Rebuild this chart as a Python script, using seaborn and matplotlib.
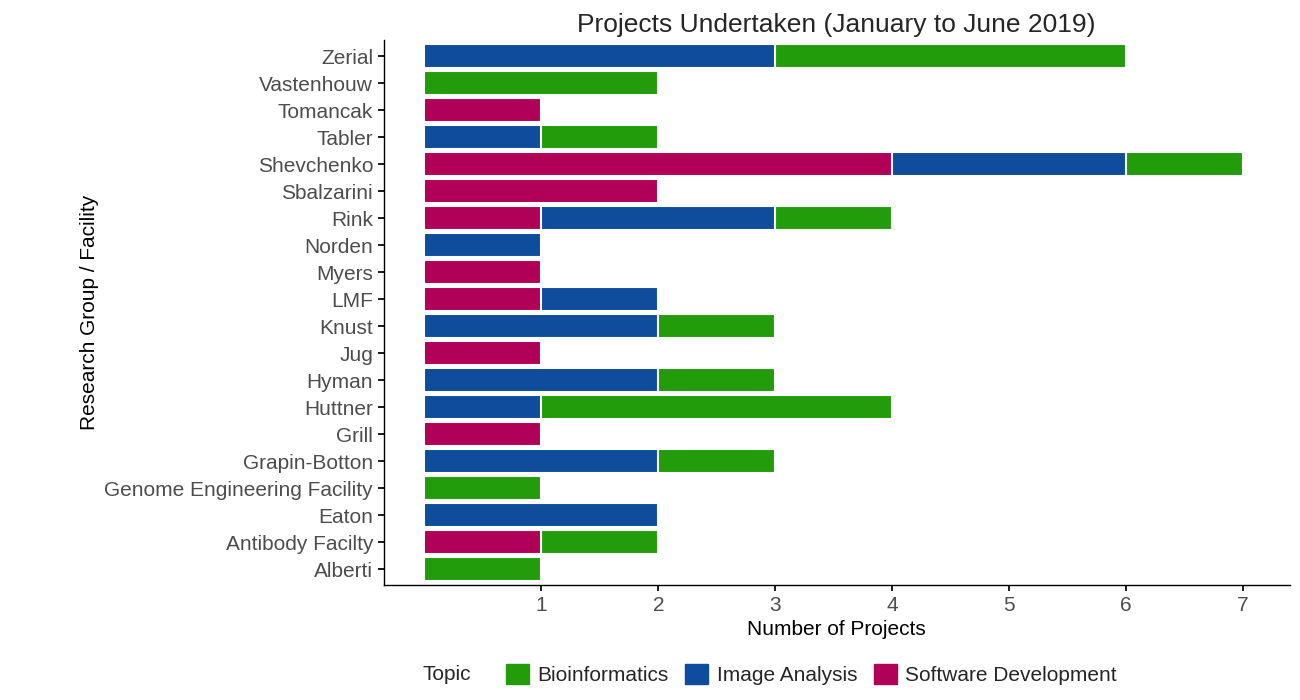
import matplotlib
matplotlib.use("Agg")
import matplotlib.pyplot as plt
import seaborn as sns
import pandas as pd
import numpy as np
from matplotlib.patches import Patch

groups = ["Zerial", "Vastenhouw", "Tomancak", "Tabler", "Shevchenko", "Sbalzarini",
          "Rink", "Norden", "Myers", "LMF", "Knust", "Jug", "Hyman", "Huttner", "Grill",
          "Grapin-Botton", "Genome Engineering Facility", "Eaton", "Antibody Facilty", "Alberti"]
software_dev = [0, 0, 1, 0, 4, 2, 1, 0, 1, 1, 0, 1, 0, 0, 1, 0, 0, 0, 1, 0]
image_analysis = [3, 0, 0, 1, 2, 0, 2, 1, 0, 1, 2, 0, 2, 1, 0, 2, 0, 2, 0, 0]
bioinformatics = [3, 2, 0, 1, 1, 0, 1, 0, 0, 0, 1, 0, 1, 3, 0, 1, 1, 0, 1, 1]

colors = {"Bioinformatics": "#229c0a", "Image Analysis": "#0f4c9c",
          "Software Development": "#b00058"}

df = pd.DataFrame({"group": groups, "sd": software_dev,
                   "ia": image_analysis, "bi": bioinformatics})
df["sd_ia"] = df["sd"] + df["ia"]
df["total"] = df["sd_ia"] + df["bi"]

plt.rcParams["font.family"] = "Liberation Sans"
sns.set_theme(style="white", rc={"font.family": "Liberation Sans"})
fig = plt.figure(figsize=(13, 7), dpi=100)
ax = fig.add_axes([0.295, 0.164, 0.697, 0.779])

# layered cumulative bars: total (green), then SD+IA (blue), then SD (magenta)
for col, name in [("total", "Bioinformatics"), ("sd_ia", "Image Analysis"),
                  ("sd", "Software Development")]:
    sub = df[df[col] > 0]
    sns.barplot(data=sub, x=col, y="group", order=groups, orient="h",
                color=colors[name], saturation=1, width=0.9,
                edgecolor="white", linewidth=1.5, ax=ax)

ax.set_xlim(-0.35, 7.4)
ax.set_ylim(len(groups) - 0.4, -0.6)
ax.set_xticks(range(1, 8))
ax.tick_params(axis="both", labelsize=15, labelcolor="#4d4d4d", length=4,
               color="black", left=True, bottom=True)
ax.set_xlabel("Number of Projects", fontsize=15, color="black")
ax.set_ylabel("Research Group / Facility", fontsize=15, color="black")
ax.set_title("Projects Undertaken (January to June 2019)", fontsize=19, pad=6)
for s in ["top", "right"]:
    ax.spines[s].set_visible(False)
for s in ["left", "bottom"]:
    ax.spines[s].set_color("black")
    ax.spines[s].set_linewidth(1)

handles = [Patch(color=colors[n]) for n in ["Bioinformatics", "Image Analysis",
                                            "Software Development"]]
fig.text(0.325, 0.036, "Topic", fontsize=15, va="center")
fig.legend(handles, ["Bioinformatics", "Image Analysis", "Software Development"],
           loc="center left", bbox_to_anchor=(0.375, 0.036), ncol=3, frameon=False,
           fontsize=15, handlelength=1.1, handleheight=1.1, handletextpad=0.4,
           columnspacing=0.8)

fig.savefig("out.png", dpi=100)
